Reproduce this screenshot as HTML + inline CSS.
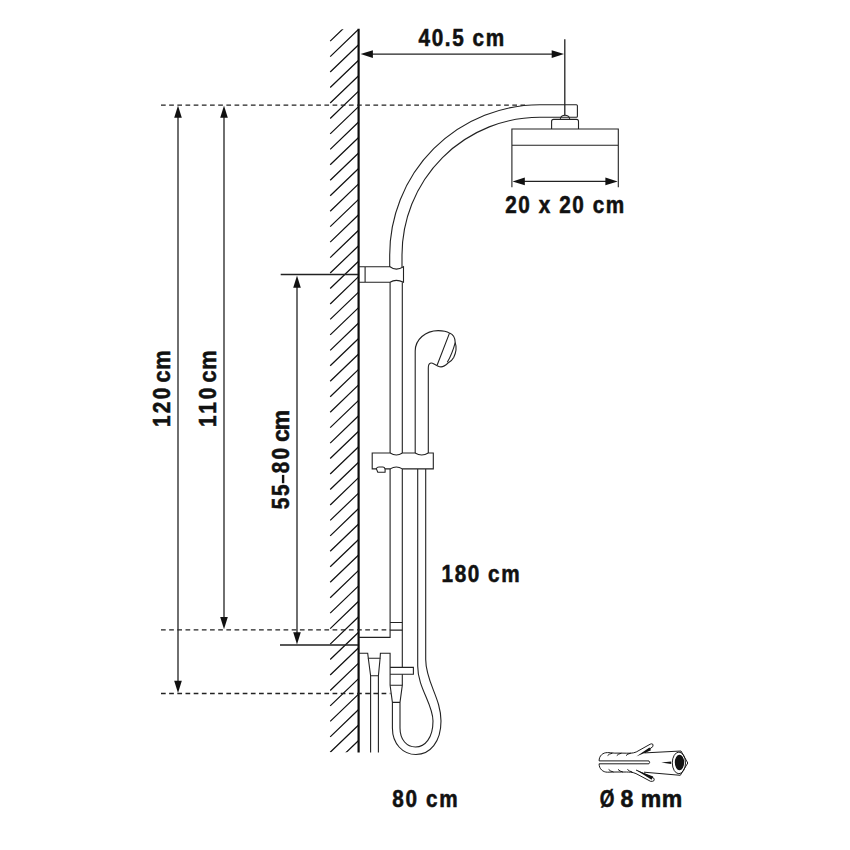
<!DOCTYPE html>
<html><head><meta charset="utf-8"><style>
html,body{margin:0;padding:0;background:#fff;width:850px;height:850px;overflow:hidden}
svg{display:block}
</style></head><body>
<svg width="850" height="850" viewBox="0 0 850 850">
<defs><clipPath id="hc"><rect x="329" y="29.3" width="31" height="723"/></clipPath></defs>
<rect width="850" height="850" fill="#fff"/>
<g clip-path="url(#hc)"><path d="M330.2,41.14L358.6,13.84M330.2,56.60L358.6,29.30M330.2,72.06L358.6,44.76M330.2,87.52L358.6,60.22M330.2,102.98L358.6,75.68M330.2,118.44L358.6,91.14M330.2,133.90L358.6,106.60M330.2,149.36L358.6,122.06M330.2,164.82L358.6,137.52M330.2,180.28L358.6,152.98M330.2,195.74L358.6,168.44M330.2,211.20L358.6,183.90M330.2,226.66L358.6,199.36M330.2,242.12L358.6,214.82M330.2,257.58L358.6,230.28M330.2,273.04L358.6,245.74M330.2,288.50L358.6,261.20M330.2,303.96L358.6,276.66M330.2,319.42L358.6,292.12M330.2,334.88L358.6,307.58M330.2,350.34L358.6,323.04M330.2,365.80L358.6,338.50M330.2,381.26L358.6,353.96M330.2,396.72L358.6,369.42M330.2,412.18L358.6,384.88M330.2,427.64L358.6,400.34M330.2,443.10L358.6,415.80M330.2,458.56L358.6,431.26M330.2,474.02L358.6,446.72M330.2,489.48L358.6,462.18M330.2,504.94L358.6,477.64M330.2,520.40L358.6,493.10M330.2,535.86L358.6,508.56M330.2,551.32L358.6,524.02M330.2,566.78L358.6,539.48M330.2,582.24L358.6,554.94M330.2,597.70L358.6,570.40M330.2,613.16L358.6,585.86M330.2,628.62L358.6,601.32M330.2,644.08L358.6,616.78M330.2,659.54L358.6,632.24M330.2,675.00L358.6,647.70M330.2,690.46L358.6,663.16M330.2,705.92L358.6,678.62M330.2,721.38L358.6,694.08M330.2,736.84L358.6,709.54M330.2,752.30L358.6,725.00M330.2,767.76L358.6,740.46" stroke="#111" stroke-width="1.25" fill="none"/></g>
<line x1="358.6" y1="28.8" x2="358.6" y2="752.4" stroke="#0d0d0d" stroke-width="2.2"/>
<path d="M161,105.1H525" stroke="#222" stroke-width="1.35" stroke-dasharray="4.7 3.47" fill="none"/>
<path d="M161,629.8H390" stroke="#222" stroke-width="1.35" stroke-dasharray="4.7 3.47" fill="none"/>
<path d="M161,693.5H390.5" stroke="#222" stroke-width="1.35" stroke-dasharray="4.7 3.47" fill="none"/>
<path d="M178,112V686" stroke="#222" stroke-width="1.3" fill="none"/>
<path d="M178,105.5L181.80,117.80L174.20,117.80Z" fill="#111"/>
<path d="M178,693L174.20,680.70L181.80,680.70Z" fill="#111"/>
<path d="M224,112V622" stroke="#222" stroke-width="1.3" fill="none"/>
<path d="M224,105.5L227.80,117.80L220.20,117.80Z" fill="#111"/>
<path d="M224,629.3L220.20,617.00L227.80,617.00Z" fill="#111"/>
<path d="M297,283V637" stroke="#222" stroke-width="1.3" fill="none"/>
<path d="M297,275.5L300.80,287.80L293.20,287.80Z" fill="#111"/>
<path d="M297,644.5L293.20,632.20L300.80,632.20Z" fill="#111"/>
<path d="M280.7,274.5H358M280,645H358M564.8,39.3V115.5" stroke="#222" stroke-width="1.3" fill="none"/>
<path d="M368,54.1H557" stroke="#222" stroke-width="1.3" fill="none"/>
<path d="M360.6,54.1L372.90,50.30L372.90,57.90Z" fill="#111"/>
<path d="M564,54.1L551.70,57.90L551.70,50.30Z" fill="#111"/>
<path d="M519,181.4H611" stroke="#222" stroke-width="1.3" fill="none"/>
<path d="M512.5,181.4L524.80,177.60L524.80,185.20Z" fill="#111"/>
<path d="M617.7,181.4L605.40,185.20L605.40,177.60Z" fill="#111"/>
<path d="M389.7,267 V255 A150.3,150.3 0 0 1 540,104.7 H576.4 Q577.4,104.7 577.4,105.7 V116.2 Q577.4,117.2 576.4,117.2 H540 A138,138 0 0 0 402,255 V267" stroke="#222" stroke-width="1.1" fill="none"/>
<path d="M560.3,118.8 Q561,115.3 565,115.3 Q569,115.3 569.7,118.8" stroke="#222" stroke-width="1.1" fill="none"/>
<path d="M551.6,129 V121.4 Q551.6,119.4 553.6,119.4 H576.5 Q578.5,119.4 578.5,121.4 V129" stroke="#222" stroke-width="1.1" fill="none"/>
<path d="M511.9,187.2 V129 H618.3 V187.2 M511.9,145.2 H618.3" stroke="#222" stroke-width="1.1" fill="none"/>
<path d="M358.6,266.8 H390 Q396,271.5 403.5,266.8 V282.2 Q396,278.5 390,282.2 H358.6 M365.1,266.8 V282.2" stroke="#222" stroke-width="1.1" fill="none"/>
<path d="M390.1,282.2 V453 M402.3,282.2 V453 M390.1,468.9 V637.4 H358.6 M402.3,468.9 V667.4 M402.3,674.3 V685.3" stroke="#222" stroke-width="1.1" fill="none"/>
<path d="M390.1,622.5 H402.3 M390.1,630.1 H402.3" stroke="#222" stroke-width="1.1" fill="none"/>
<path d="M372.2,453 H390.2 Q396.3,457 402.4,453 H415.1 Q421.7,457 428.3,453 H433.3 V468.9 H402.4 Q396.3,465 390.2,468.9 H372.2 Z" stroke="#222" stroke-width="1.1" fill="none"/>
<path d="M376.3,468.6 Q377,467 379,467 H383 Q384.8,467.2 385.1,469.4 V472.2 H377.8 Z" stroke="#222" stroke-width="1.1" fill="#fff" stroke-linejoin="round"/>
<path d="M415.2,453 V351 C415.2,339.5 425.5,330.6 438.2,330.6 C443,330.6 447,331.5 449.5,333.1 C453,334.5 455.2,338 455.2,342.6 C456.8,347 456,352.5 453.7,357.4 C452,360.5 450,362 448,363 C446,365 443.5,366.9 441,366.9 C439.5,366.9 438,366 436.8,365.5 C434.5,364.5 432.5,362.8 431,363 C429.5,363.2 428.3,364.5 428.3,368 V453" stroke="#222" stroke-width="1.1" fill="none"/>
<path d="M449.5,333.1 L437.1,365.2 M455.2,342.6 C453.5,349 451,356 447.3,362.3" stroke="#222" stroke-width="1.1" fill="none"/>
<path d="M358.6,653.2 H367.7 L368.3,658.3 H380.1 L380.4,653.2 H390.1 V685.3 L392.4,702.4 V728 C392.4,744 403,754.5 416,754.5 C430,754.5 441,742 441,721 C441,698 425.7,682 425.7,659.5 V468.9" stroke="#222" stroke-width="1.1" fill="none"/>
<path d="M400,702.4 L402.3,685.3 H390.1 M392.4,702.4 H400 V728 C400,740 407,747 415.5,747 C425,747 433,738 433,721 C433,704 417.7,688 417.7,666 V468.9" stroke="#222" stroke-width="1.1" fill="none"/>
<path d="M390.1,667.4 H413.4 V674.3 H390.1" stroke="#222" stroke-width="1.1" fill="none"/>
<path d="M368.3,658.3 L370.6,675.8 H378.4 L380.1,658.3 M370.6,675.8 V752.4 M378.4,675.8 V752.4" stroke="#222" stroke-width="1.1" fill="none"/>
<g stroke="#111" stroke-width="0.95" fill="none" stroke-linejoin="round"><path d="M648.9,760.9 H599.1 C599.1,755.5 603,752.6 607.4,752.6 C612,752.6 614,753.4 617,753.1 C620,752.8 623,753.4 626.5,753.2 C630,753.1 632,753.6 636.2,752 L650.2,744.2 Q653.8,742.8 652.8,746.6 L644.7,752.9 L681,751 L687.8,763 L680.3,775.3 L644,772.2"/><path d="M648.9,763.8 H599.1 C599.1,769 603,772.2 607.4,772.2 C611,772.3 614,771.8 617,772 C620,772.3 623,771.8 626.5,772 C629,772.2 632,771.8 636,773.6 L650.5,781.3 Q655.5,781.8 653.8,778.2 L636,770 M648.9,760.9 Q650.4,762.35 648.9,763.8"/><path d="M607.6,755.6 Q609,753.8 612.5,753.2 M616.8,755.6 Q618.2,753.8 621.6,753.2 M626,755.6 Q627.4,753.8 630.8,753.2"/><path d="M608.6,769.4 Q610.4,771.4 613.5,772 M618,769.4 Q619.8,771.4 622.9,772 M627.4,769.4 Q629.2,771.4 632.3,772"/><ellipse cx="678.9" cy="762.9" rx="6.6" ry="10.8"/></g><g fill="#111"><ellipse cx="679.5" cy="762.6" rx="4.7" ry="7.75"/><path d="M636.3,756.4 L649.5,747.6 L651,750.2 Z"/><path d="M636,770 L653.2,776.6 L651.6,779.8 Z"/><path d="M661.2,762.5 L671.2,761.6 L671.2,763.9 Z"/></g>
<text transform="translate(418.6,45.9) scale(0.9,1)" font-family="Liberation Sans" font-weight="bold" fill="#111" stroke="#111" stroke-width="0.55" font-size="23" textLength="95.00" lengthAdjust="spacing">40.5 cm</text>
<text transform="translate(505.2,213) scale(0.9,1)" font-family="Liberation Sans" font-weight="bold" fill="#111" stroke="#111" stroke-width="0.55" font-size="23" textLength="132.22" lengthAdjust="spacing">20 x 20 cm</text>
<text transform="translate(441.6,581.6) scale(0.9,1)" font-family="Liberation Sans" font-weight="bold" fill="#111" stroke="#111" stroke-width="0.55" font-size="23" textLength="86.67" lengthAdjust="spacing">180 cm</text>
<text transform="translate(392.2,807) scale(0.9,1)" font-family="Liberation Sans" font-weight="bold" fill="#111" stroke="#111" stroke-width="0.55" font-size="23" textLength="72.78" lengthAdjust="spacing">80 cm</text>
<text transform="translate(599.8,807) scale(0.82,1)" font-family="Liberation Sans" font-weight="bold" fill="#111" stroke="#111" stroke-width="0.55" font-size="23" textLength="18.29" lengthAdjust="spacing">Ø</text>
<text transform="translate(620.6,807) scale(1.0,1)" font-family="Liberation Sans" font-weight="bold" fill="#111" stroke="#111" stroke-width="0.55" font-size="23" textLength="61.50" lengthAdjust="spacing">8 mm</text>
<text transform="translate(170.2,427.0) rotate(-90) scale(0.9,1)" font-family="Liberation Sans" font-weight="bold" fill="#111" stroke="#111" stroke-width="0.55" font-size="23" textLength="43.56" lengthAdjust="spacing">120</text>
<text transform="translate(170.2,382.6) rotate(-90) scale(0.94,1)" font-family="Liberation Sans" font-weight="bold" fill="#111" stroke="#111" stroke-width="0.55" font-size="23" textLength="34.26" lengthAdjust="spacing">cm</text>
<text transform="translate(216.4,427.0) rotate(-90) scale(0.9,1)" font-family="Liberation Sans" font-weight="bold" fill="#111" stroke="#111" stroke-width="0.55" font-size="23" textLength="43.56" lengthAdjust="spacing">110</text>
<text transform="translate(216.4,382.6) rotate(-90) scale(0.94,1)" font-family="Liberation Sans" font-weight="bold" fill="#111" stroke="#111" stroke-width="0.55" font-size="23" textLength="34.26" lengthAdjust="spacing">cm</text>
<text transform="translate(289.4,509.3) rotate(-90) scale(0.9,1)" font-family="Liberation Sans" font-weight="bold" fill="#111" stroke="#111" stroke-width="0.55" font-size="23" textLength="27.56" lengthAdjust="spacing">55</text>
<rect x="281.9" y="474.9" width="2.4" height="8.3" fill="#111"/>
<text transform="translate(289.4,473.3) rotate(-90) scale(0.9,1)" font-family="Liberation Sans" font-weight="bold" fill="#111" stroke="#111" stroke-width="0.55" font-size="23" textLength="28.22" lengthAdjust="spacing">80</text>
<text transform="translate(289.4,441.9) rotate(-90) scale(1.0,1)" font-family="Liberation Sans" font-weight="bold" fill="#111" stroke="#111" stroke-width="0.55" font-size="23" textLength="32.00" lengthAdjust="spacing">cm</text>
</svg>
</body></html>
